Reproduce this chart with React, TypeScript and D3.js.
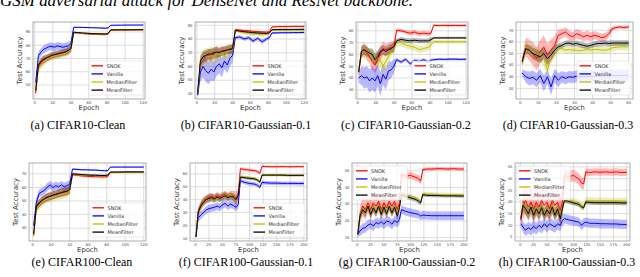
import React from "react";
import * as d3 from "d3";

// epochs sampled for each kind of run
const EP120 = [1, 4, 7, 10, 13, 16, 19, 22, 25, 28, 31, 34, 37, 40, 43, 48, 53, 58, 63, 68, 73, 78, 81, 84, 90, 96, 102, 108, 114, 120];
const EP60 = [1, 3, 5, 7, 9, 11, 13, 15, 17, 19, 21, 23, 25, 27, 29, 31, 33, 35, 37, 39, 41, 43, 45, 47, 49, 51, 53, 55, 57, 60];
const EP200 = [1, 5, 10, 15, 20, 25, 30, 35, 40, 45, 50, 55, 60, 65, 70, 75, 79, 83, 90, 100, 110, 115, 119, 123, 130, 140, 150, 160, 170, 180, 190, 200];

const SERIES_NAMES = ["SNOK", "Vanilla", "MedianFilter", "MeanFilter"];
const SERIES_COLORS = ["#ff0000", "#0000ff", "#bfbf00", "#000000"];

// (a) CIFAR10-Clean
const aSnok = [44, 64, 67, 69, 70, 71, 72, 72.5, 73, 73.5, 74, 74.5, 75, 77, 89.5, 89.2, 88.8, 88.5, 88.3, 88.2, 88, 88, 88.2, 91.4, 91.5, 91.5, 91.5, 91.6, 91.6, 91.6];
const aSnokSd = [3, 3, 3, 3, 2.5, 2.5, 2.5, 2.5, 2.5, 2.5, 2.5, 2.5, 2.5, 2.5, 0.6, 0.5, 0.5, 0.5, 0.5, 0.5, 0.5, 0.5, 0.5, 0.4, 0.4, 0.4, 0.4, 0.4, 0.4, 0.4];
const aVan = [52, 72, 75, 77, 78, 79, 79, 78.5, 79.5, 79, 78.5, 79, 79.5, 81, 93.5, 93.5, 93.4, 93.3, 93.2, 93.1, 93, 92.8, 93, 95, 95.1, 95.1, 95.2, 95.2, 95.2, 95.2];
const aVanSd = [3, 3, 3, 3, 3, 3, 3, 3, 3, 3, 3, 3, 3, 2.5, 0.5, 0.5, 0.5, 0.5, 0.5, 0.5, 0.5, 0.5, 0.5, 0.4, 0.4, 0.4, 0.4, 0.4, 0.4, 0.4];
const aMed = [47, 63, 66, 68, 69.5, 70.5, 71.5, 72, 72.5, 73, 73.5, 74, 75, 77, 89.6, 89.4, 89, 88.8, 88.7, 88.5, 88.5, 88.4, 88.6, 91.4, 91.5, 91.5, 91.5, 91.5, 91.6, 91.6];
const aMedSd = [3, 3.5, 3.5, 3.5, 3, 3, 3, 3, 3, 3, 3, 3, 3, 2.5, 0.5, 0.5, 0.5, 0.5, 0.5, 0.5, 0.5, 0.5, 0.5, 0.4, 0.4, 0.4, 0.4, 0.4, 0.4, 0.4];
const aMean = [46, 65, 68, 69.5, 70.5, 71.5, 72.5, 73, 73.5, 74, 74.5, 75, 76, 77.5, 89.8, 89.5, 89.2, 89, 88.8, 88.7, 88.6, 88.5, 88.7, 91.5, 91.6, 91.6, 91.6, 91.6, 91.7, 91.7];
const aMeanSd = [3, 3, 3, 3, 2.5, 2.5, 2.5, 2.5, 2.5, 2.5, 2.5, 2.5, 2.5, 2.5, 0.5, 0.5, 0.5, 0.5, 0.5, 0.5, 0.5, 0.5, 0.5, 0.4, 0.4, 0.4, 0.4, 0.4, 0.4, 0.4];

// (b) CIFAR10-Gaussian-0.1
const bSnok = [40, 62, 66, 67, 68, 68.5, 69, 70, 70.5, 71, 71.5, 72, 72.5, 73, 86.8, 86.5, 86.2, 86, 85.6, 85.4, 85.2, 85, 85.3, 88.8, 89, 89.1, 89.1, 89.2, 89.2, 89.2];
const bSnokSd = [2, 4, 4, 4, 4, 4, 4, 4, 3.5, 3.5, 3.5, 3.5, 3.5, 3.5, 0.8, 0.8, 0.8, 0.8, 0.8, 0.8, 0.8, 0.8, 0.8, 0.6, 0.6, 0.6, 0.6, 0.6, 0.6, 0.6];
const bVan = [39, 56, 60, 57, 55, 58, 56, 60, 62, 59, 64, 61, 66, 68, 81, 81.5, 80, 81, 78.5, 80.5, 78, 80, 81, 84.4, 84.5, 84.6, 84.6, 84.7, 84.7, 84.8];
const bVanSd = [3, 7, 8, 8, 8, 8, 7, 7, 7, 7, 6, 6, 6, 5, 1.2, 1.2, 1.4, 1.4, 1.6, 1.4, 1.6, 1.4, 1.2, 0.8, 0.8, 0.8, 0.8, 0.8, 0.8, 0.8];
const bMed = [41, 63, 66, 68, 67, 69, 66, 70, 68, 71, 67, 72, 71, 72, 86, 85.2, 84.5, 84, 83.5, 83.5, 83, 83.3, 84, 86.1, 86.2, 86.2, 86.3, 86.3, 86.3, 86.3];
const bMedSd = [2, 5, 6, 6, 6, 6, 6, 6, 5, 5, 5, 5, 5, 4, 1.2, 1.2, 1.2, 1.2, 1.2, 1.2, 1.2, 1.2, 1, 0.6, 0.6, 0.6, 0.6, 0.6, 0.6, 0.6];
const bMean = [41, 64, 67, 68, 69, 69, 70, 70.5, 70, 71, 71.5, 72, 72.5, 73, 86.2, 85.8, 85.3, 85, 84.6, 84.4, 84.2, 84, 84.5, 86.8, 86.9, 87, 87, 87, 87, 87.1];
const bMeanSd = [2, 4, 4, 4, 4, 4, 4, 4, 3, 3, 3, 3, 3, 3, 0.8, 0.8, 0.8, 0.8, 0.8, 0.8, 0.8, 0.8, 0.8, 0.5, 0.5, 0.5, 0.5, 0.5, 0.5, 0.5];

// (c) CIFAR10-Gaussian-0.2
const cSnok = [45, 62.5, 64, 61, 58, 54, 51, 55.5, 61, 65, 64, 65, 66, 66.5, 80.5, 80, 79, 78, 79, 77.5, 78, 77.5, 78, 84.7, 84.5, 84.6, 84.5, 84.6, 84.5, 84.6];
const cSnokSd = [3, 5, 6, 6, 6, 7, 7, 7, 6, 6, 5, 5, 5, 5, 1.5, 1.5, 1.5, 2, 2, 2, 2, 2, 1.5, 1, 1, 1, 1, 1, 1, 1];
const cVan = [40, 42, 40, 41, 37.5, 40, 37.5, 42, 35, 43, 39, 46, 47, 50, 55.5, 53.5, 56, 52, 55, 54, 55.5, 53.5, 55, 55.5, 56, 55.8, 56, 56, 55.8, 56];
const cVanSd = [4, 8, 9, 9, 10, 10, 10, 9, 10, 9, 9, 8, 7, 6, 1.5, 1.5, 1.5, 1.5, 1.5, 1.5, 1.5, 1.5, 1.5, 1, 1, 1, 1, 1, 1, 1];
const cMed = [45, 62, 64, 62, 60, 58, 56, 57, 55, 50, 54, 58, 63, 65, 70, 70, 68, 67, 66, 64, 65, 66, 68, 71, 70.8, 70.8, 70.8, 70.8, 70.8, 70.8];
const cMedSd = [3, 5, 5, 5, 5, 6, 6, 6, 7, 8, 7, 6, 5, 4, 3, 3, 3, 3, 3, 3, 3, 3, 2.5, 1.5, 1.5, 1.5, 1.5, 1.5, 1.5, 1.5];
const cMean = [45, 62.5, 64, 62.5, 61, 60, 55.5, 58, 62.5, 64, 62.5, 64, 65, 66.5, 71.5, 72.8, 72, 71.5, 72, 71.5, 71.5, 71.5, 72.5, 74, 74, 74, 74, 74, 74, 74];
const cMeanSd = [3, 4, 4, 4, 4, 5, 5, 5, 4, 4, 4, 4, 4, 4, 2, 2, 2, 2, 2, 2, 2, 2, 2, 1, 1, 1, 1, 1, 1, 1];

// (d) CIFAR10-Gaussian-0.3
const dSnok = [42.9, 55.7, 52.9, 50, 45.7, 51.4, 55.7, 48.6, 52.9, 57, 65.7, 67, 68.6, 65.7, 64.3, 67, 66, 64.3, 65.7, 64.3, 65.7, 64.9, 63.6, 64.3, 67, 71.4, 72.3, 72.9, 72.3, 72.9];
const dSnokSd = [4, 8, 9, 10, 10, 10, 10, 10, 9, 8, 5, 4, 4, 4, 4, 4, 4, 4, 4, 4, 3.5, 3.5, 3.5, 3.5, 3, 2, 1.5, 1.5, 1.5, 1.5];
const dVan = [33.4, 30, 28.6, 29.5, 27, 31, 24.3, 30, 21.4, 31, 27, 30, 28.6, 30, 29.5, 30.5, 30, 30.5, 30, 30.5, 30.5, 30.8, 31, 30.8, 31, 31.2, 31, 31.2, 31.2, 31.2];
const dVanSd = [3, 5, 6, 6, 6, 6, 7, 6, 7, 6, 6, 5, 5, 5, 5, 5, 5, 5, 5, 5, 5, 5, 5, 5, 5, 5, 5, 5, 5, 5];
const dMed = [41.5, 55.7, 52.9, 51.4, 48.6, 50, 45.7, 35.7, 47, 51.4, 54.3, 54.3, 52.9, 53.5, 52.9, 52.9, 52.3, 52.9, 53.5, 52.9, 53.5, 53.5, 52.9, 52.9, 53.5, 55, 55.3, 55.7, 55.7, 55.7];
const dMedSd = [3, 5, 5, 6, 6, 6, 7, 7, 6, 5, 4, 3, 3, 3, 3, 3, 3, 3, 3, 3, 3, 3, 3, 3, 3, 3, 3, 3, 3, 3];
const dMean = [42.9, 54.3, 52.9, 50, 48.6, 47, 50, 45.7, 48.6, 52.9, 55.7, 57, 58.6, 59, 58, 58.6, 57.7, 57, 56.3, 57, 58, 58.6, 58.6, 59, 58.6, 59, 59, 59, 59, 59];
const dMeanSd = [3, 4, 4, 5, 5, 5, 5, 5, 5, 4, 3, 2.5, 2.5, 2.5, 2.5, 2.5, 2.5, 2.5, 2.5, 2.5, 2.5, 2.5, 2.5, 2.5, 2.5, 2.5, 2.5, 2.5, 2.5, 2.5];

// (e) CIFAR100-Clean
const eSnok = [24.3, 45.5, 48, 50.5, 51.8, 53, 53.5, 54.3, 54.8, 55.5, 56, 56.3, 56.8, 58, 69.3, 69, 68.5, 68.3, 68, 68, 67.8, 67.8, 68, 71, 71, 71.2, 71.2, 71.2, 71.2, 71.2];
const eSnokSd = [2, 3, 3, 3, 3, 3, 3, 3, 3, 3, 3, 3, 3, 3, 1, 1, 1, 1, 1, 1, 1, 1, 1, 0.6, 0.6, 0.6, 0.6, 0.6, 0.6, 0.6];
const eVan = [31.8, 49.3, 55.5, 56.8, 58, 60.5, 61.8, 59.8, 61.3, 60.5, 61.8, 60.5, 61.3, 62.3, 73.5, 73.3, 73, 73, 72.8, 72.8, 72.5, 72.3, 72.3, 75, 75, 75, 75, 75, 75, 75];
const eVanSd = [2, 3, 3, 3, 3, 3, 3, 3, 3, 3, 3, 3, 3, 3, 0.6, 0.6, 0.6, 0.6, 0.6, 0.6, 0.6, 0.6, 0.6, 0.5, 0.5, 0.5, 0.5, 0.5, 0.5, 0.5];
const eMed = [24.3, 44.3, 46.8, 49.3, 50.5, 51.8, 52.5, 53, 53.5, 54.3, 55, 55.5, 56, 57.3, 69.5, 69.3, 69, 68.8, 68.8, 68.6, 68.5, 68.5, 68.8, 71, 71, 71, 71.1, 71.1, 71.1, 71.1];
const eMedSd = [2, 3.5, 3.5, 3.5, 3.5, 3.5, 3.5, 3.5, 3.5, 3.5, 3.5, 3.5, 3.5, 3, 0.8, 0.8, 0.8, 0.8, 0.8, 0.8, 0.8, 0.8, 0.8, 0.6, 0.6, 0.6, 0.6, 0.6, 0.6, 0.6];
const eMean = [25.5, 46.3, 48.5, 50.3, 51.8, 52.8, 53.5, 54.3, 55, 55.5, 56.3, 56.8, 57.3, 58.5, 70, 69.7, 69.4, 69.2, 69, 69, 68.8, 68.8, 69, 71.3, 71.3, 71.3, 71.4, 71.4, 71.4, 71.4];
const eMeanSd = [2, 3, 3, 3, 3, 3, 3, 3, 3, 3, 3, 3, 3, 3, 0.8, 0.8, 0.8, 0.8, 0.8, 0.8, 0.8, 0.8, 0.8, 0.6, 0.6, 0.6, 0.6, 0.6, 0.6, 0.6];

// (f) CIFAR100-Gaussian-0.1
const fSnok = [11.3, 31, 36, 39, 40.5, 42, 42.4, 41.3, 43, 42, 43, 44, 42.4, 43.7, 43, 40.5, 44.5, 64, 63.4, 62.9, 62.4, 61.6, 60.5, 65.8, 65.6, 65.5, 65.5, 65.6, 65.5, 65.5, 65.6, 65.5];
const fSnokSd = [1, 3, 3, 3, 3, 3, 3, 3, 3, 3, 3, 3, 3, 3, 4, 6, 4, 1.2, 1.2, 1.2, 1.2, 1.2, 1.2, 0.8, 0.8, 0.8, 0.8, 0.8, 0.8, 0.8, 0.8, 0.8];
const fVan = [11, 25.8, 28, 30, 32, 33, 33.5, 34, 35, 34, 36, 37, 35, 36.5, 35.5, 34, 36, 54.7, 53.5, 52.5, 52, 51, 49.5, 53.4, 53, 52.8, 52.8, 52.6, 52.6, 52.6, 52.5, 52.5];
const fVanSd = [1, 3, 3, 3, 3, 3, 3, 3, 3, 3, 3, 3, 3, 3, 3, 3, 3, 1.5, 1.5, 1.5, 1.5, 1.5, 1.5, 1.5, 1.5, 1.5, 1.5, 1.5, 1.5, 1.5, 1.5, 1.5];
const fMed = [11, 30, 35, 38, 40, 41, 41.5, 40.5, 42, 41, 42, 43.5, 41.5, 44, 42, 40, 43, 58, 57.5, 57, 56.5, 55.5, 54, 59.2, 59.2, 59.2, 59.2, 59, 59, 59, 59, 59];
const fMedSd = [1, 3, 3, 3, 3, 3, 3, 3, 3, 3, 3, 3, 3, 3, 3, 3, 3, 1.2, 1.2, 1.2, 1.2, 1.2, 1.2, 0.8, 0.8, 0.8, 0.8, 0.8, 0.8, 0.8, 0.8, 0.8];
const fMean = [11, 30, 35, 38, 40, 41, 41.5, 40.5, 42, 41, 42, 43, 41.5, 42.5, 42, 40, 43, 57.5, 57, 56.5, 56, 55, 53.5, 59, 59, 59, 59, 59, 58.8, 58.8, 58.8, 58.8];
const fMeanSd = [1, 3, 3, 3, 3, 3, 3, 3, 3, 3, 3, 3, 3, 3, 3, 3, 3, 1.2, 1.2, 1.2, 1.2, 1.2, 1.2, 0.8, 0.8, 0.8, 0.8, 0.8, 0.8, 0.8, 0.8, 0.8];

// (g) CIFAR100-Gaussian-0.2
const gSnok = [12, 23.9, 28.8, 26.8, 30.8, 26.8, 30.8, 28.8, 31.8, 26.8, 30.8, 27.8, 31.8, 28.8, 31.8, 26.8, 30.8, 47.6, 46.6, 47.2, 46, 45.2, 43.7, 50.6, 51, 51, 51.2, 51.2, 51, 51.2, 51, 51];
const gSnokSd = [2, 5, 6, 6, 6, 6, 6, 6, 6, 6, 6, 6, 6, 6, 6, 6, 6, 2, 2, 2, 2, 2, 2, 1, 1, 1, 1, 1, 1, 1, 1, 1];
const gVan = [12, 14, 15.5, 16, 17.5, 18.3, 17, 19, 18.3, 19.5, 18, 19.9, 19.5, 18, 20.3, 19, 20.9, 26.8, 25.8, 24.9, 24.3, 23.9, 22.9, 23.5, 23.3, 23.1, 23.1, 23.1, 23.1, 23.1, 23.1, 23.1];
const gVanSd = [1.5, 3, 3, 3, 3, 3, 3, 3, 3, 3, 3, 3, 3, 3, 3, 3, 3, 2.5, 2.5, 2.5, 2.5, 2.5, 2.5, 2.5, 2.5, 2.5, 2.5, 2.5, 2.5, 2.5, 2.5, 2.5];
const gMed = [12.5, 23.5, 27.5, 25.5, 29.5, 24.5, 28.5, 25.5, 29.5, 24.5, 29, 25, 29.5, 25.5, 29, 23.5, 28.5, 36.5, 35.5, 34.5, 33.5, 32.5, 31.5, 36.3, 36, 36, 35.8, 35.8, 35.6, 35.6, 35.5, 35.5];
const gMedSd = [1.5, 3, 3, 3, 3, 3, 3, 3, 3, 3, 3, 3, 3, 3, 3, 3, 3, 1.5, 1.5, 1.5, 1.5, 1.5, 1.5, 1.2, 1.2, 1.2, 1.2, 1.2, 1.2, 1.2, 1.2, 1.2];
const gMean = [12, 22.9, 26.8, 24.9, 28.8, 23.9, 27.8, 24.9, 28.8, 23.9, 28.3, 24.3, 28.8, 24.9, 28.3, 22.9, 27.8, 35.7, 34.8, 33.8, 32.8, 31.8, 30.8, 35.7, 35.3, 35.2, 35.2, 35, 35, 35, 34.9, 34.9];
const gMeanSd = [1.5, 2.5, 2.5, 2.5, 2.5, 2.5, 2.5, 2.5, 2.5, 2.5, 2.5, 2.5, 2.5, 2.5, 2.5, 2.5, 2.5, 1.5, 1.5, 1.5, 1.5, 1.5, 1.5, 1, 1, 1, 1, 1, 1, 1, 1, 1];

// (h) CIFAR100-Gaussian-0.3
const hSnok = [12.1, 18.6, 20.7, 17.9, 20, 17.1, 20, 17.9, 20.7, 18.6, 20, 17.1, 20.7, 18.6, 20, 16.4, 20, 31.4, 30.7, 31.4, 29.8, 28.1, 27.8, 32.9, 32.6, 32.9, 32.7, 32.9, 32.7, 32.9, 32.6, 32.7];
const hSnokSd = [2, 6, 6, 6, 6, 6, 6, 6, 6, 6, 6, 6, 6, 6, 6, 6, 6, 2.5, 2.5, 2.5, 2.5, 2.5, 2.5, 1.5, 1.5, 1.5, 1.5, 1.5, 1.5, 1.5, 1.5, 1.5];
const hVan = [10.7, 9.3, 7.9, 9, 8.2, 9.6, 8.6, 10, 9, 10.7, 9.3, 10.7, 10, 9.3, 10.7, 10, 12.1, 12.9, 12.4, 11.9, 11.4, 10, 11, 11.4, 10.9, 10.9, 10.7, 10.7, 10.6, 10.6, 10.4, 10.4];
const hVanSd = [1.5, 2.5, 2.5, 2.5, 2.5, 2.5, 2.5, 2.5, 2.5, 2.5, 2.5, 2.5, 2.5, 2.5, 2.5, 2.5, 2.5, 2, 2, 2, 2, 2, 2, 2, 2, 2, 2, 2, 2, 2, 2, 2];
const hMed = [13, 19, 17.5, 15.5, 18.5, 15, 17.5, 15.5, 18, 15, 17, 15.5, 18.5, 15, 17.5, 13.5, 17.5, 21, 20.8, 20.2, 19.6, 18.5, 18, 20.5, 20.5, 20.4, 20.4, 20.3, 20.3, 20.3, 20.3, 20.3];
const hMedSd = [1.5, 3, 3, 3, 3, 3, 3, 3, 3, 3, 3, 3, 3, 3, 3, 3, 3, 1.5, 1.5, 1.5, 1.5, 1.5, 1.5, 1.5, 1.5, 1.5, 1.5, 1.5, 1.5, 1.5, 1.5, 1.5];
const hMean = [12.9, 18.6, 17.1, 15, 17.9, 14.3, 17.1, 15, 17.6, 14.3, 16.7, 15, 17.9, 14.3, 17.1, 12.9, 17.1, 20.7, 20.3, 19.6, 19, 17.9, 17.6, 20, 19.8, 19.7, 19.7, 19.7, 19.7, 19.7, 19.6, 19.6];
const hMeanSd = [1.5, 2.5, 2.5, 2.5, 2.5, 2.5, 2.5, 2.5, 2.5, 2.5, 2.5, 2.5, 2.5, 2.5, 2.5, 2.5, 2.5, 1, 1, 1, 1, 1, 1, 1, 1, 1, 1, 1, 1, 1, 1, 1];

const TICKS_120 = [0, 20, 40, 60, 80, 100, 120];
const TICKS_60 = [0, 10, 20, 30, 40, 50, 60];
const TICKS_200 = [0, 25, 50, 75, 100, 125, 150, 175, 200];

const TOP = [22, 99];
const BOTTOM = [163, 241];

const mk = (m: number[][][]) =>
  m.map((pair, i) => ({ name: SERIES_NAMES[i], color: SERIES_COLORS[i], mean: pair[0], sd: pair[1] }));

const PANELS = [
  { id: "a", box: [33, 145], rows: TOP, epochs: EP120, xDomain: [-2, 122], xTicks: TICKS_120, yDomain: [39.5, 97.5], yTicks: [50, 60, 70, 80, 90], legend: "lr", caption: "(a) CIFAR10-Clean", capX: 78,
    series: mk([[aSnok, aSnokSd], [aVan, aVanSd], [aMed, aMedSd], [aMean, aMeanSd]]) },
  { id: "b", box: [195, 306], rows: TOP, epochs: EP120, xDomain: [-2, 122], xTicks: TICKS_120, yDomain: [36.3, 92.4], yTicks: [40, 50, 60, 70, 80, 90], legend: "lr", caption: "(b) CIFAR10-Gaussian-0.1", capX: 246,
    series: mk([[bSnok, bSnokSd], [bVan, bVanSd], [bMed, bMedSd], [bMean, bMeanSd]]) },
  { id: "c", box: [356, 468], rows: TOP, epochs: EP120, xDomain: [-2, 122], xTicks: TICKS_120, yDomain: [22.2, 87.5], yTicks: [30, 40, 50, 60, 70, 80], legend: "lr", caption: "(c) CIFAR10-Gaussian-0.2", capX: 406,
    series: mk([[cSnok, cSnokSd], [cVan, cVanSd], [cMed, cMedSd], [cMean, cMeanSd]]) },
  { id: "d", box: [516, 633], rows: TOP, epochs: EP60, xDomain: [-2.4, 62.4], xTicks: TICKS_60, yDomain: [10.9, 77.1], yTicks: [20, 30, 40, 50, 60, 70], legend: "lr", caption: "(d) CIFAR10-Gaussian-0.3", capX: 568,
    series: mk([[dSnok, dSnokSd], [dVan, dVanSd], [dMed, dMedSd], [dMean, dMeanSd]]) },
  { id: "e", box: [29, 146], rows: BOTTOM, epochs: EP120, xDomain: [-4, 122.5], xTicks: TICKS_120, yDomain: [20.5, 78], yTicks: [30, 40, 50, 60, 70], legend: "lr", caption: "(e) CIFAR100-Clean", capX: 82,
    series: mk([[eSnok, eSnokSd], [eVan, eVanSd], [eMed, eMedSd], [eMean, eMeanSd]]) },
  { id: "f", box: [190, 307], rows: BOTTOM, epochs: EP200, xDomain: [-10, 206], xTicks: TICKS_200, yDomain: [7.9, 68.4], yTicks: [10, 20, 30, 40, 50, 60], legend: "lr", caption: "(f) CIFAR100-Gaussian-0.1", capX: 246,
    series: mk([[fSnok, fSnokSd], [fVan, fVanSd], [fMed, fMedSd], [fMean, fMeanSd]]) },
  { id: "g", box: [352, 467], rows: BOTTOM, epochs: EP200, xDomain: [-10, 206], xTicks: TICKS_200, yDomain: [8, 54.6], yTicks: [10, 20, 30, 40, 50], legend: "ul", caption: "(g) CIFAR100-Gaussian-0.2", capX: 407,
    series: mk([[gSnok, gSnokSd], [gVan, gVanSd], [gMed, gMedSd], [gMean, gMeanSd]]) },
  { id: "h", box: [515, 630], rows: BOTTOM, epochs: EP200, xDomain: [-10, 206], xTicks: TICKS_200, yDomain: [3.3, 36.7], yTicks: [5, 10, 15, 20, 25, 30, 35], legend: "ul", caption: "(h) CIFAR100-Gaussian-0.3", capX: 567,
    series: mk([[hSnok, hSnokSd], [hVan, hVanSd], [hMed, hMedSd], [hMean, hMeanSd]]) },
];

const SANS = "DejaVu Sans, sans-serif";
const SERIF = "Liberation Serif, Times New Roman, serif";

function Panel({ p }: { p: any }) {
  const [x0, x1] = p.box;
  const [y0, y1] = p.rows;
  const x = d3.scaleLinear().domain(p.xDomain).range([x0, x1]);
  const y = d3.scaleLinear().domain(p.yDomain).range([y1, y0]);

  const line = d3.line<number>().x((_, i) => x(p.epochs[i])).y((v) => y(v));
  const band = (s: any) =>
    d3.area<number>()
      .x((_, i) => x(p.epochs[i]))
      .y0((v, i) => y(v - s.sd[i]))
      .y1((v, i) => y(v + s.sd[i]))(s.mean);

  const lw = 54, lh = 34;
  const lx = p.legend === "lr" ? x1 - 2 - lw : x0 + 1.5;
  const ly = p.legend === "lr" ? y1 - 4 - lh : y0 + 3;
  const clip = `clip-${p.id}`;
  const capY = p.rows === TOP ? 129 : 265.5;

  return (
    <g>
      <defs>
        <clipPath id={clip}>
          <rect x={x0} y={y0} width={x1 - x0} height={y1 - y0} />
        </clipPath>
      </defs>
      <rect x={x0} y={y0} width={x1 - x0} height={y1 - y0} fill="#fff" />
      {p.xTicks.map((t: number) => (
        <line key={`gx${t}`} x1={x(t)} x2={x(t)} y1={y0} y2={y1} stroke="#cfcfcf" strokeWidth={0.7} />
      ))}
      {p.yTicks.map((t: number) => (
        <line key={`gy${t}`} x1={x0} x2={x1} y1={y(t)} y2={y(t)} stroke="#cfcfcf" strokeWidth={0.7} />
      ))}
      <g clipPath={`url(#${clip})`}>
        {p.series.map((s: any) => (
          <path key={`b${s.name}`} d={band(s) || ""} fill={s.color} fillOpacity={0.28} />
        ))}
        {p.series.map((s: any) => (
          <path key={`l${s.name}`} d={line(s.mean) || ""} fill="none" stroke={s.color} strokeWidth={1} />
        ))}
      </g>
      <rect x={x0} y={y0} width={x1 - x0} height={y1 - y0} fill="none" stroke="#8a8a8a" strokeWidth={0.7} />
      {p.xTicks.map((t: number) => (
        <text key={`tx${t}`} x={x(t)} y={y1 + 4.8} fontSize={3.8} fontFamily={SANS} fill="#444" textAnchor="middle">{t}</text>
      ))}
      {p.yTicks.map((t: number) => (
        <text key={`ty${t}`} x={x0 - 2.5} y={y(t) + 1.3} fontSize={3.8} fontFamily={SANS} fill="#444" textAnchor="end">{t}</text>
      ))}
      <text x={(x0 + x1) / 2} y={y1 + 10.5} fontSize={6.8} fontFamily={SANS} fill="#333" textAnchor="middle">Epoch</text>
      <text transform={`translate(${x0 - 11},${(y0 + y1) / 2}) rotate(-90)`} fontSize={7} fontFamily={SANS} fill="#333" textAnchor="middle">Test Accuracy</text>
      <g transform={`translate(${lx},${ly})`}>
        <rect width={lw} height={lh} rx={1.5} fill="#fff" fillOpacity={0.8} stroke="#d6d6d6" strokeWidth={0.5} />
        {p.series.map((s: any, i: number) => (
          <g key={`lg${s.name}`} transform={`translate(0,${4.8 + i * 8.1})`}>
            <line x1={2.5} x2={14} y1={0} y2={0} stroke={s.color} strokeWidth={1.3} />
            <text x={17.5} y={1.8} fontSize={5} fontFamily={SANS} fill="#333">{s.name}</text>
          </g>
        ))}
      </g>
      <text x={p.capX} y={capY} fontSize={12} fontFamily={SERIF} textAnchor="middle" fill="#000">{p.caption}</text>
    </g>
  );
}

export default function App() {
  return (
    <svg width={640} height={277} style={{ position: "absolute", left: 0, top: 0, background: "#fff" }}>
      <text x={0} y={6} fontSize={16} fontStyle="italic" fontFamily={SERIF} textLength={413} lengthAdjust="spacingAndGlyphs">
        GSM adversarial attack for DenseNet and ResNet backbone.
      </text>
      {PANELS.map((p) => (
        <Panel key={p.id} p={p} />
      ))}
    </svg>
  );
}
